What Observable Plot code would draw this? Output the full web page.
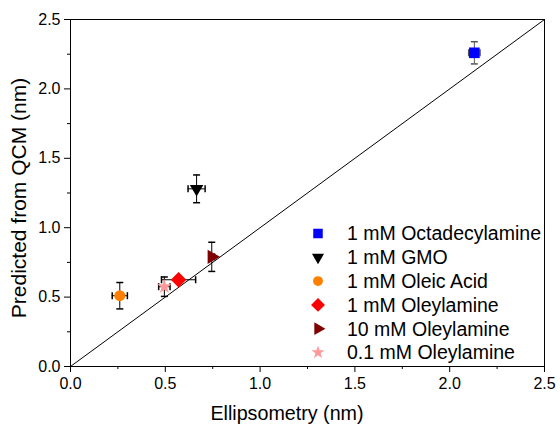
<!DOCTYPE html>
<html><head><meta charset="utf-8">
<script src="https://cdn.jsdelivr.net/npm/d3@7"></script>
<script src="https://cdn.jsdelivr.net/npm/@observablehq/plot@0.6"></script>
<style>
body{margin:0;background:#fff}
#chart{position:relative;width:560px;height:428px}
</style>
</head><body><div id="chart"></div>
<script>
const labels = ["1 mM Octadecylamine","1 mM GMO","1 mM Oleic Acid","1 mM Oleylamine","10 mM Oleylamine","0.1 mM Oleylamine"];
const ellipsometry = [2.13, 0.665, 0.26, 0.57, 0.745, 0.495];
const ellipsometryErr = [0.03, 0.045, 0.04, 0.09, 0.015, 0.03];
const qcm = [2.26, 1.28, 0.51, 0.625, 0.79, 0.575];
const qcmErr = [0.08, 0.1, 0.095, 0.02, 0.105, 0.07];
const colors = ["#0000ff","#000000","#ff8000","#ff0000","#800000","#ff9999"];
const symbols = ["square","triangle","circle","diamond2","triangle","star"];
const rotations = [0, 180, 0, 0, 90, 0];
const sizes = [6, 5, 5.5, 7, 5.3, 4.6];
const barColors = ["#555555","#000000","#000000","#000000","#000000","#000000"];
const majorTicks = [0, 0.5, 1.0, 1.5, 2.0, 2.5];
const minorTicks = [0.25, 0.75, 1.25, 1.75, 2.25];
const diagonal = [0, 2.5];
const xTitle = "Ellipsometry (nm)";
const yTitle = "Predicted from QCM (nm)";

const data = labels.map((label, i) => ({
  label, x: ellipsometry[i], xe: ellipsometryErr[i], y: qcm[i], ye: qcmErr[i],
  color: colors[i], symbol: symbols[i], rotate: rotations[i], r: sizes[i], bar: barColors[i]
}));

const hCap = {draw(ctx){ctx.moveTo(-3.5,0);ctx.lineTo(3.5,0);}};
const vCap = {draw(ctx){ctx.moveTo(0,-3.5);ctx.lineTo(0,3.5);}};

const marks = [
  Plot.line(diagonal.map(v => [v, v]), {stroke: "black", strokeWidth: 1}),
  Plot.ruleX(data, {x: "x", y1: d => d.y - d.ye, y2: d => d.y + d.ye, stroke: "bar"}),
  Plot.ruleY(data, {y: "y", x1: d => d.x - d.xe, x2: d => d.x + d.xe, stroke: "bar"}),
  Plot.dot(data, {x: "x", y: d => d.y - d.ye, symbol: hCap, stroke: "bar", fill: "none"}),
  Plot.dot(data, {x: "x", y: d => d.y + d.ye, symbol: hCap, stroke: "bar", fill: "none"}),
  Plot.dot(data, {x: d => d.x - d.xe, y: "y", symbol: vCap, stroke: "bar", fill: "none"}),
  Plot.dot(data, {x: d => d.x + d.xe, y: "y", symbol: vCap, stroke: "bar", fill: "none"}),
  ...data.map(d => Plot.dot([d], {x: "x", y: "y", symbol: d.symbol, rotate: d.rotate, r: d.r, fill: d.color, stroke: "none"})),
  Plot.axisX({ticks: majorTicks, tickFormat: d3.format(".1f"), tickSize: 6, tickPadding: 5, label: null, fontSize: 16}),
  Plot.axisX({ticks: minorTicks, tickFormat: () => "", tickSize: 3, label: null}),
  Plot.axisY({ticks: majorTicks, tickFormat: d3.format(".1f"), tickSize: 6, tickPadding: 4, label: null, fontSize: 16}),
  Plot.axisY({ticks: minorTicks, tickFormat: () => "", tickSize: 3, label: null}),
  Plot.frame({stroke: "black", strokeWidth: 1})
];

const chart = Plot.plot({
  width: 560, height: 428,
  marginLeft: 70, marginRight: 16, marginTop: 19, marginBottom: 62,
  x: {domain: [0, 2.5]},
  y: {domain: [0, 2.5]},
  color: {type: "identity"},
  style: {fontFamily: "'Liberation Sans', Arial, sans-serif", fontSize: "16px", color: "black", background: "white", overflow: "visible"},
  marks
});

const svg = d3.select(chart);
svg.append("text").attr("x", 287).attr("y", 420).attr("text-anchor", "middle")
  .attr("font-size", 19.7).attr("fill", "black").text(xTitle);
svg.append("text").attr("transform", "translate(26,198) rotate(-90)").attr("text-anchor", "middle")
  .attr("font-size", 21).attr("fill", "black").text(yTitle);

const leg = svg.append("g");
data.forEach((d, i) => {
  const yy = 233.5 + i * 23.8;
  const sym = {square: d3.symbolSquare, triangle: d3.symbolTriangle, circle: d3.symbolCircle, diamond2: d3.symbolDiamond2, star: d3.symbolStar}[d.symbol];
  leg.append("path").attr("d", d3.symbol(sym, Math.PI * d.r * d.r * 0.8)())
    .attr("transform", `translate(318,${yy}) rotate(${d.rotate})`).attr("fill", d.color);
  leg.append("text").attr("x", 347).attr("y", yy).attr("dy", "0.35em").attr("text-anchor", "start")
    .attr("font-size", 19.5).attr("fill", "black").text(d.label);
});

document.getElementById("chart").appendChild(chart);
</script>
</body></html>
